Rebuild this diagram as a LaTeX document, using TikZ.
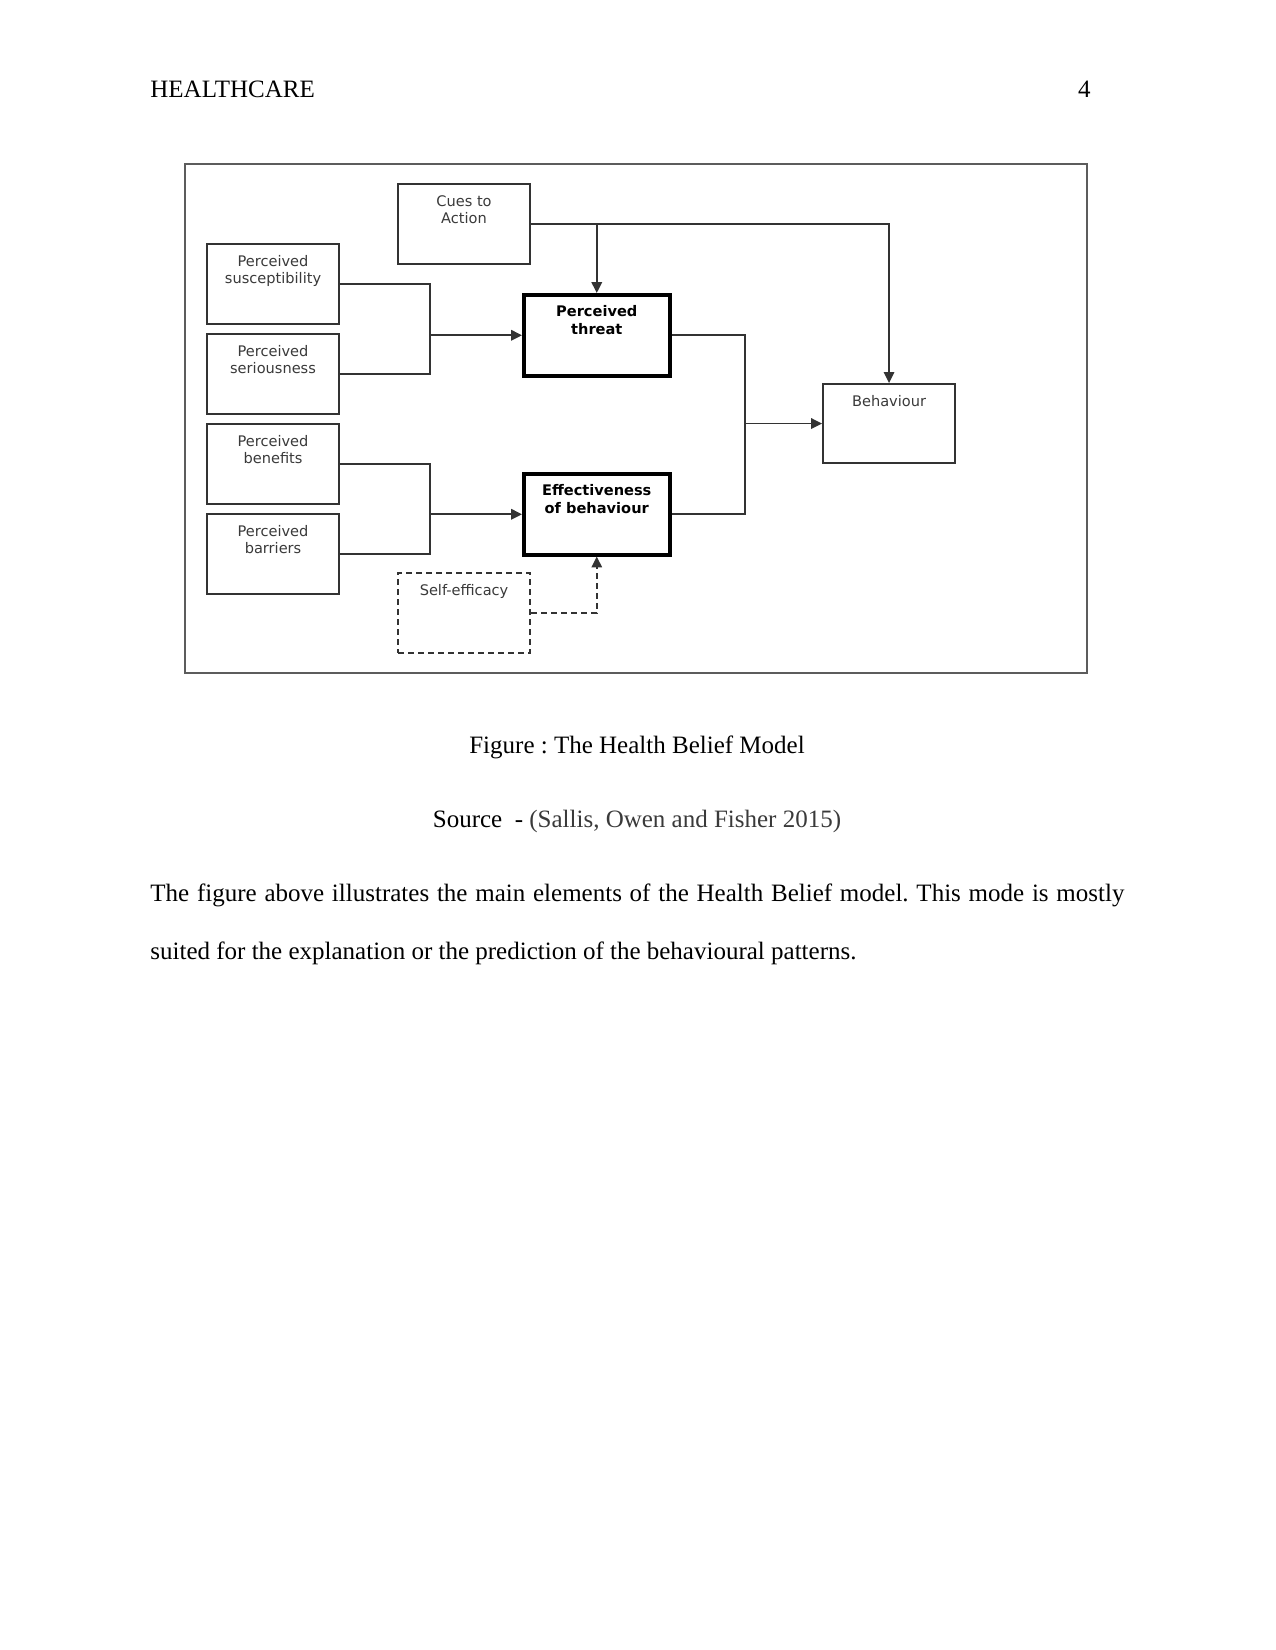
\documentclass[tikz,border=0pt]{standalone}
\usepackage{fontspec}
\setmainfont{Liberation Serif}
\newfontfamily\diagfont{DejaVu Sans}
\usetikzlibrary{arrows.meta}
\definecolor{ink}{HTML}{333333}
\definecolor{txtgray}{HTML}{3A3A3A}
\frenchspacing
\begin{document}
\begin{tikzpicture}[x=0.48bp,y=-0.48bp,
  box/.style={draw=ink, line width=1bp, fill=white, inner sep=0pt, anchor=north west,
     minimum width=132*0.48bp, minimum height=80*0.48bp},
  thickbox/.style={box, line width=1.7bp, draw=black, minimum width=146*0.48bp, minimum height=81*0.48bp},
  dashbox/.style={box, dash pattern=on 2.9bp off 1.9bp},
  lbl/.style={anchor=north, inner sep=0pt, align=center, text=txtgray,
     font=\diagfont\fontsize{7bp}{8.3bp}\selectfont},
  blbl/.style={lbl, text=black, font=\diagfont\bfseries\fontsize{7bp}{8.6bp}\selectfont},
  conn/.style={draw=ink, line width=0.8bp},
  arr/.style={conn, line width=0.9bp, -{Triangle[length=5.2bp,width=5bp]}},
  page/.style={inner sep=0pt, font=\fontsize{12bp}{14bp}\selectfont}
]
\useasboundingbox (0,0) rectangle (1275,1650);

% header
\node[page, anchor=base west] (hdr) at (150,97) {HEALTHCARE};
\node[page, anchor=base east] (pg) at (1091,97) {4};

% outer frame
\node[draw=ink!80, line width=0.9bp, inner sep=0pt, anchor=north west,
      minimum width=902*0.48bp, minimum height=509*0.48bp] (frame) at (184,163) {};

% boxes
\node[box] (cues) at (397,183) {};
\node[box] (sus) at (206,243) {};
\node[box] (ser) at (206,333) {};
\node[box] (ben) at (206,423) {};
\node[box] (bar) at (206,513) {};
\node[thickbox] (threat) at (522,293) {};
\node[thickbox] (eff) at (522,472) {};
\node[dashbox] (self) at (397,572) {};
\node[box, minimum height=79*0.48bp] (beh) at (822,383) {};

% labels
\node[lbl] (cuesL) at ([yshift=-12*0.48bp]cues.north) {Cues to\\Action};
\node[lbl] (susL) at ([yshift=-12*0.48bp]sus.north) {Perceived\\susceptibility};
\node[lbl] (serL) at ([yshift=-12*0.48bp]ser.north) {Perceived\\seriousness};
\node[lbl] (benL) at ([yshift=-12*0.48bp]ben.north) {Perceived\\benefits};
\node[lbl] (barL) at ([yshift=-12*0.48bp]bar.north) {Perceived\\barriers};
\node[blbl] (threatL) at ([yshift=-12*0.48bp]threat.north) {Perceived\\threat};
\node[blbl] (effL) at ([yshift=-12*0.48bp]eff.north) {Effectiveness\\of behaviour};
\node[lbl] (selfL) at ([yshift=-12*0.48bp]self.north) {Self-efficacy};
\node[lbl] (behL) at ([yshift=-12*0.48bp]beh.north) {Behaviour};

% junctions
\coordinate (jx) at (430,0);
\coordinate (jy) at (745,0);
\coordinate (j1) at (threat.west -| jx);
\coordinate (j2) at (eff.west -| jx);
\coordinate (j3) at (beh.west -| jy);
\coordinate (j4) at (threat.north |- cues.east);

% connectors
\draw[conn] (sus.east) -| (j1) |- (ser.east);
\draw[arr] (j1) -- (threat.west);
\draw[conn] (ben.east) -| (j2) |- (bar.east);
\draw[arr] (j2) -- (eff.west);
\draw[conn] (threat.east) -| (j3) |- (eff.east);
\draw[arr] (j3) -- (beh.west);
\draw[arr, line width=0.8bp] (cues.east) -| (beh.north);
\draw[arr] (j4) -- (threat.north);
\draw[arr, line width=0.8bp, dash pattern=on 2.9bp off 1.9bp] (self.east) -| (eff.south);

% caption and text
\node[page, anchor=base] (cap) at (637,753) {Figure : The Health Belief Model};
\node[page, anchor=base] (src) at (637,827) {Source\ \ - {\color{txtgray}(Sallis, Owen and Fisher 2015)}};
\node[page, anchor=north west, text width=974*0.48bp, align=justify,
      font=\fontsize{12bp}{28.3bp}\selectfont] (para) at (150,883)
  {The figure above illustrates the main elements of the Health Belief model. This mode is mostly suited for the explanation or the prediction of the behavioural patterns.};
\end{tikzpicture}
\end{document}
